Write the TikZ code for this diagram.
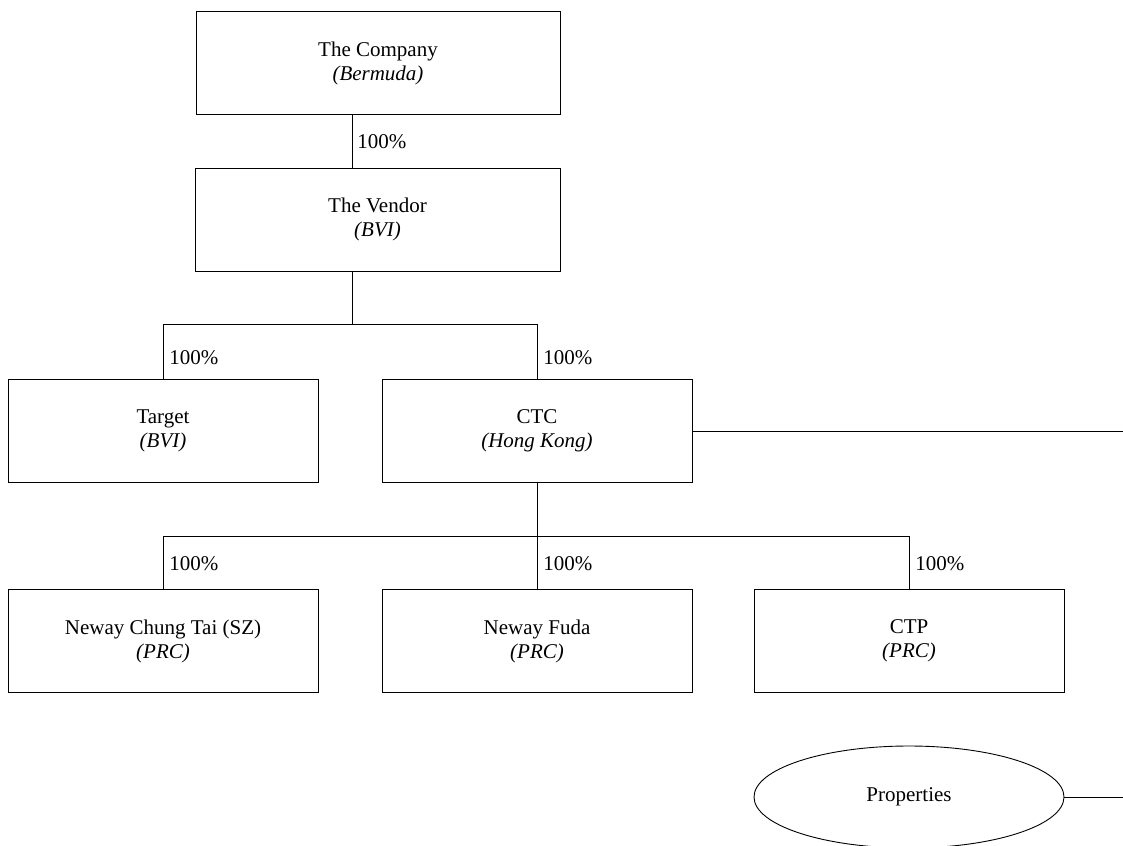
\documentclass[tikz,border=0pt]{standalone}
\usepackage{fontspec}
\setmainfont{Liberation Serif}
\usetikzlibrary{shapes.geometric}
\begin{document}
\begin{tikzpicture}[x=1pt,y=-1pt,
  every node/.style={font=\fontsize{21}{24}\selectfont},
  entity/.style={draw, line width=0.9pt, minimum width=#1, minimum height=103pt, inner sep=0pt, align=center},
  entity/.default=310pt,
  prop/.style={draw, line width=0.9pt, ellipse, minimum width=310pt, minimum height=102pt, inner sep=0pt},
  pct/.style={anchor=west, inner sep=0pt},
  conn/.style={line width=0.9pt}]
\useasboundingbox (0,0) rectangle (1123,845);
\node[entity=364pt] (company) at (378,63) {The Company\\\textit{(Bermuda)}};
\node[entity=365pt] (vendor) at (377.5,219.5) {The Vendor\\\textit{(BVI)}};
\node[entity] (target) at (163,431) {Target\\\textit{(BVI)}};
\node[entity] (ctc) at (537,431) {CTC\\\textit{(Hong Kong)}};
\node[entity] (ncts) at (163,641) {Neway Chung Tai (SZ)\\\textit{(PRC)}};
\node[entity] (fuda) at (537,641) {Neway Fuda\\\textit{(PRC)}};
\node[entity] (ctp) at (909,641) {CTP\\\textit{(PRC)}};
\node[prop] (props) at (909,797) {Properties};
\coordinate (j1) at (352,324);
\coordinate (j2) at (537,536);
\coordinate (e1) at (1123,431);
\coordinate (e2) at (1123,797);
% company to vendor
\draw[conn] (company.south -| j1) -- node[pct, right=5pt] {100\%} (vendor.north -| j1);
% vendor to target and CTC
\draw[conn] (vendor.south -| j1) -- (j1);
\draw[conn] (target.north) -- node[pct, right=6pt, pos=0.38] {100\%} (target.north |- j1) -- (ctc.north |- j1) -- node[pct, right=6pt, pos=0.62] {100\%} (ctc.north);
% CTC to the right edge
\draw[conn] (ctc.east) -- (e1);
% CTC to row 3
\draw[conn] (ctc.south) -- (j2);
\draw[conn] (ncts.north) -- node[pct, right=6pt, pos=0.47] {100\%} (ncts.north |- j2) -- (ctp.north |- j2) -- node[pct, right=6pt, pos=0.53] {100\%} (ctp.north);
\draw[conn] (j2) -- node[pct, right=6pt, pos=0.53] {100\%} (fuda.north);
% properties
\draw[conn] (props.east) -- (e2);
\end{tikzpicture}
\end{document}
